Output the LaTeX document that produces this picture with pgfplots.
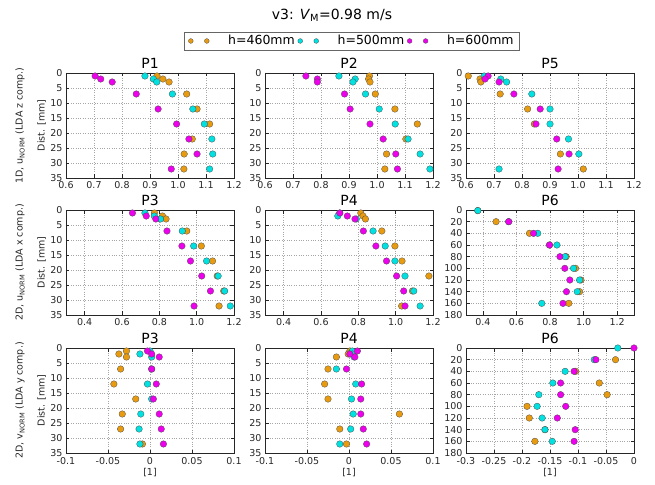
\documentclass[border=0pt]{standalone}
\usepackage{fontspec}
\setmainfont{DejaVu Sans}
\usepackage{pgfplots}
\pgfplotsset{compat=1.18}
\definecolor{corange}{RGB}{232,155,15}
\definecolor{ccyan}{RGB}{0,225,225}
\definecolor{cmag}{RGB}{238,0,238}
\pgfplotsset{
  base/.style={
    scale only axis, width=168pt, height=105pt, anchor=south west,
    y dir=reverse, grid=major,
    major grid style={dotted, black!35, line width=0.5pt},
    axis line style={black!85, line width=0.6pt},
    tick align=inside, major tick length=3.5pt,
    tick style={black!85, line width=0.5pt},
    /pgf/number format/assume math mode=true,
    tick label style={font=\fontsize{9.5}{10}\selectfont, text=black!85},
    title style={font=\fontsize{14}{15}\selectfont, yshift=-5pt},
    label style={font=\fontsize{9.5}{11}\selectfont, text=black!85},
    clip=false,
  },
  r1/.style={base, xmin=0.6, xmax=1.2, xtick={0.6,0.7,0.8,0.9,1.0,1.1,1.2},
    xticklabels={0.6,0.7,0.8,0.9,1.0,1.1,1.2}, ymin=0, ymax=35, ytick={0,5,10,15,20,25,30,35}},
  r2/.style={base, xmin=0.3, xmax=1.2, xtick={0.4,0.6,0.8,1.0,1.2},
    xticklabels={0.4,0.6,0.8,1.0,1.2}, ymin=0, ymax=35, ytick={0,5,10,15,20,25,30,35}},
  r6/.style={base, xmin=0.3, xmax=1.3, xtick={0.4,0.6,0.8,1.0,1.2},
    xticklabels={0.4,0.6,0.8,1.0,1.2}, ymin=0, ymax=180, ytick={0,20,40,60,80,100,120,140,160,180}},
  r3/.style={base, xmin=-0.1, xmax=0.1, xtick={-0.1,-0.05,0,0.05,0.1},
    xticklabels={-0.1,-0.05,0,0.05,0.1}, ymin=0, ymax=35, ytick={0,5,10,15,20,25,30,35},
    xlabel={\relax[1]}, xlabel style={yshift=3pt}, xticklabel style={yshift=-1pt}},
  r36/.style={base, xmin=-0.3, xmax=0, xtick={-0.3,-0.25,-0.2,-0.15,-0.1,-0.05,0},
    xticklabels={-0.3,-0.25,-0.2,-0.15,-0.1,-0.05,0}, ymin=0, ymax=180,
    ytick={0,20,40,60,80,100,120,140,160,180}, xlabel={\relax[1]}, xlabel style={yshift=3pt},
    xticklabel style={yshift=-1pt}},
  ylab/.style={ylabel style={at={(axis description cs:-0.21,0.5)}, anchor=center,
    align=center, font=\fontsize{9.5}{22}\selectfont}},
  so/.style={only marks, mark=*, mark size=3.3pt, mark options={fill=corange, draw=black!70, line width=0.3pt}},
  sc/.style={only marks, mark=*, mark size=3.3pt, mark options={fill=ccyan, draw=black!70, line width=0.3pt}},
  sm/.style={only marks, mark=*, mark size=3.3pt, mark options={fill=cmag, draw=black!70, line width=0.3pt}},
}
\begin{document}
\begin{tikzpicture}
\useasboundingbox (0,0) rectangle (655pt,484pt);
\node[font=\fontsize{14}{16}\selectfont] at (332pt,469pt) {v3: \textit{V}\textsubscript{M}=0.98 m/s};

% ---------------- Row 1
\begin{axis}[r1, at={(66pt,306pt)}, title={P1}, ylab,
  ylabel={1D, u\textsubscript{NORM} (LDA z comp.)\\Dist. [mm]}]
\addplot[so] coordinates {(0.925,1)(0.946,2)(0.968,3)(1.031,7)(1.068,12)(1.113,17)(1.051,22)(1.022,27)(1.021,32)};
\addplot[sc] coordinates {(0.882,1)(0.912,2)(0.924,3)(0.980,7)(1.053,12)(1.094,17)(1.121,22)(1.124,27)(1.113,32)};
\addplot[sm] coordinates {(0.704,1)(0.724,2)(0.765,3)(0.851,7)(0.929,12)(0.995,17)(1.039,22)(1.068,27)(0.976,32)};
\end{axis}

\begin{axis}[r1, at={(265pt,306pt)}, title={P2},
  legend columns=3,
  legend style={at={(0.518,1.305)}, anchor=center, draw=black!60, line width=0.8pt,
    font=\fontsize{12.5}{14}\selectfont, inner xsep=4pt, inner ysep=1.5pt,
    /tikz/every even column/.append style={column sep=1pt},
    /tikz/every odd column/.append style={column sep=17pt}},
  legend image code/.code={\draw[#1, mark size=2.4pt] plot coordinates {(0pt,0pt) (16pt,0pt)};}]
\addplot[so] coordinates {(0.973,1)(0.970,2)(0.975,3)(0.994,7)(1.064,12)(1.144,17)(1.103,22)(1.034,27)(1.028,32)};
\addlegendentry{h=460mm}
\addplot[sc] coordinates {(0.864,1)(0.922,2)(0.914,3)(0.959,7)(1.008,12)(1.065,17)(1.111,22)(1.154,27)(1.189,32)};
\addlegendentry{h=500mm}
\addplot[sm] coordinates {(0.746,1)(0.787,2)(0.787,3)(0.884,7)(0.904,12)(0.975,17)(1.022,22)(1.067,27)(1.073,32)};
\addlegendentry{h=600mm}
\end{axis}

\begin{axis}[r1, at={(466pt,306pt)}, title={P5}]
\addplot[so] coordinates {(0.608,1)(0.650,2)(0.653,3)(0.722,7)(0.820,12)(0.844,17)(0.937,27)(1.019,32)};
\addplot[sc] coordinates {(0.665,1)(0.724,2)(0.745,3)(0.835,7)(0.900,12)(0.900,17)(0.966,22)(1.003,27)(0.718,32)};
\addplot[sm] coordinates {(0.679,1)(0.668,2)(0.718,3)(0.771,7)(0.865,12)(0.850,17)(0.924,22)(0.968,27)(0.929,32)};
\end{axis}

% ---------------- Row 2
\begin{axis}[r2, at={(66pt,169pt)}, title={P3}, ylab,
  ylabel={2D, u\textsubscript{NORM} (LDA x comp.)\\Dist. [mm]}]
\addplot[so] coordinates {(0.774,1)(0.817,2)(0.836,3)(0.947,7)(1.025,12)(1.085,17)(1.110,22)(1.145,27)(1.120,32)};
\addplot[sc] coordinates {(0.723,1)(0.773,2)(0.806,3)(0.923,7)(0.984,12)(1.053,17)(1.115,22)(1.150,27)(1.180,32)};
\addplot[sm] coordinates {(0.656,1)(0.730,2)(0.781,3)(0.841,7)(0.921,12)(0.967,17)(1.027,22)(1.074,27)(0.986,32)};
\end{axis}

\begin{axis}[r2, at={(265pt,169pt)}, title={P4}]
\addplot[so] coordinates {(0.813,1)(0.825,2)(0.838,3)(0.926,7)(0.996,12)(1.034,17)(1.178,22)(1.090,27)(1.032,32)};
\addplot[sc] coordinates {(0.700,1)(0.690,2)(0.789,3)(0.879,7)(0.944,12)(0.996,17)(1.050,22)(1.097,27)(1.131,32)};
\addplot[sm] coordinates {(0.701,1)(0.741,2)(0.782,3)(0.827,7)(0.894,12)(0.951,17)(1.005,22)(1.043,27)(1.050,32)};
\end{axis}

\begin{axis}[r6, at={(466pt,169pt)}, title={P6}]
\addplot[so] coordinates {(0.370,1)(0.479,20)(0.678,40)(0.797,60)(0.896,80)(0.952,100)(0.984,120)(0.976,140)(0.912,160)};
\addplot[sc] coordinates {(0.370,1)(0.554,20)(0.727,40)(0.841,60)(0.890,80)(0.940,100)(0.976,120)(0.962,140)(0.751,160)};
\addplot[sm] coordinates {(0.554,20)(0.702,40)(0.797,60)(0.859,80)(0.888,100)(0.918,120)(0.898,140)(0.877,160)};
\end{axis}

% ---------------- Row 3
\begin{axis}[r3, at={(66pt,31pt)}, title={P3}, ylab,
  ylabel={2D, v\textsubscript{NORM} (LDA y comp.)\\Dist. [mm]}]
\addplot[so] coordinates {(-0.028,1)(-0.037,2)(-0.028,3)(-0.035,7)(-0.043,12)(-0.017,17)(-0.033,22)(-0.035,27)(-0.009,32)};
\addplot[sc] coordinates {(0.000,1)(-0.012,2)(0.002,3)(0.002,7)(-0.003,12)(0.002,17)(-0.011,22)(-0.013,27)(-0.012,32)};
\addplot[sm] coordinates {(-0.003,1)(0.002,2)(0.011,3)(0.002,7)(0.0075,12)(0.004,17)(0.011,22)(0.0134,27)(0.016,32)};
\end{axis}

\begin{axis}[r3, at={(265pt,31pt)}, title={P4}]
\addplot[so] coordinates {(0.001,1)(-0.001,2)(-0.015,3)(-0.025,7)(-0.029,12)(-0.025,17)(0.060,22)(-0.011,27)(-0.003,32)};
\addplot[sc] coordinates {(0.004,1)(0.004,2)(0.006,3)(-0.015,7)(0.008,12)(0.003,17)(0.005,22)(0.002,27)(-0.011,32)};
\addplot[sm] coordinates {(0.010,1)(0.001,2)(0.007,3)(-0.003,7)(0.015,12)(0.014,17)(0.014,22)(0.017,27)(0.021,32)};
\end{axis}

\begin{axis}[r36, at={(466pt,31pt)}, title={P6}]
\addplot[so] coordinates {(-0.033,20)(-0.104,40)(-0.062,60)(-0.048,80)(-0.191,100)(-0.187,120)(-0.159,140)(-0.177,160)};
\addplot[sc] coordinates {(-0.029,0)(-0.071,20)(-0.123,40)(-0.145,60)(-0.170,80)(-0.173,100)(-0.164,120)(-0.159,140)(-0.146,160)};
\addplot[sm] coordinates {(0.0,0)(-0.068,20)(-0.107,40)(-0.131,60)(-0.131,80)(-0.122,100)(-0.137,120)(-0.105,140)(-0.107,160)};
\end{axis}
\end{tikzpicture}
\end{document}
